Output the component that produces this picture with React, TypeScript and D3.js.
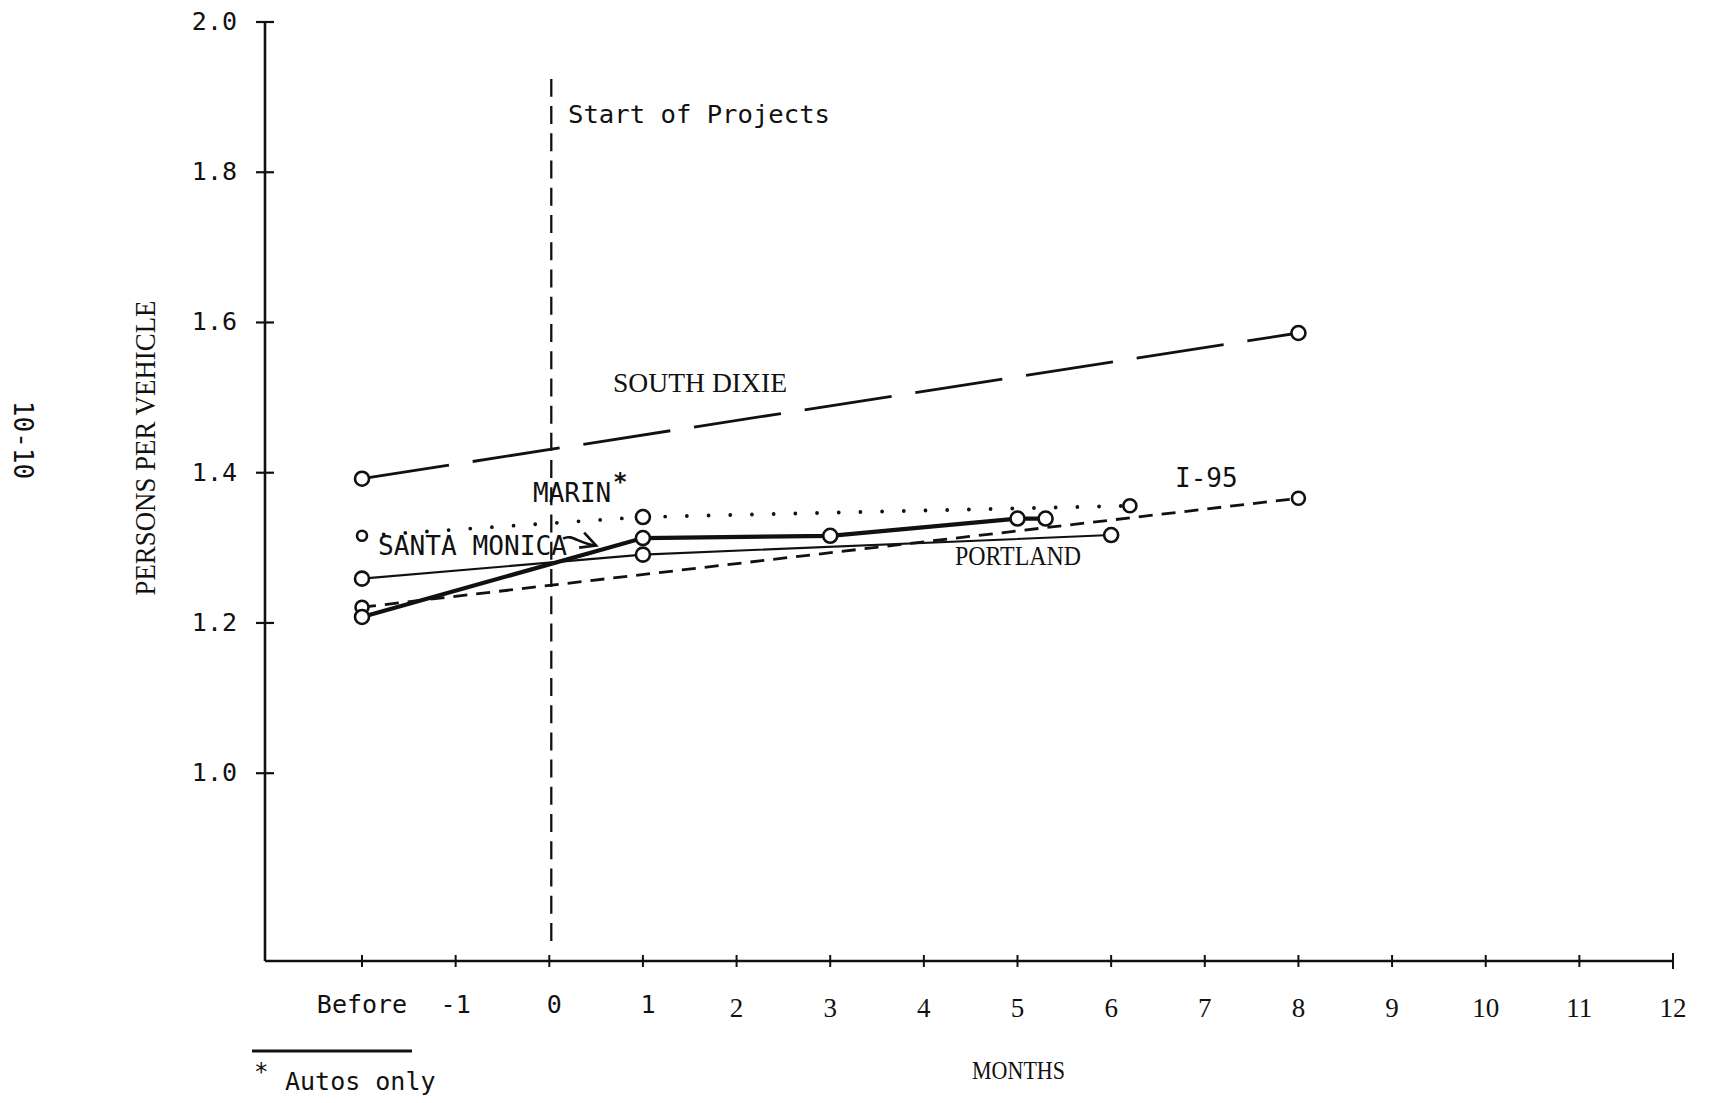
import React from 'react';
import * as d3 from 'd3';

const W = 1712;
const H = 1103;

// Axis ticks ("Before" is plotted at month -2)
const xTickValues = [-2, -1, 0, 1, 2, 3, 4, 5, 6, 7, 8, 9, 10, 11, 12];
const xTickLabels = ['Before', '-1', '0', '1', '2', '3', '4', '5', '6', '7', '8', '9', '10', '11', '12'];
const yTickValues = [1.0, 1.2, 1.4, 1.6, 1.8, 2.0];
const yTickLabels = ['1.0', '1.2', '1.4', '1.6', '1.8', '2.0'];

// Series (months, persons per vehicle)
const southDixieMonths = [-2, 8];
const southDixieValues = [1.392, 1.586];
const i95Months = [-2, 8];
const i95Values = [1.221, 1.366];
const marinMonths = [-2, 1, 6.2];
const marinValues = [1.316, 1.341, 1.356];
const santaMonicaMonths = [-2, 1, 3, 5, 5.3];
const santaMonicaValues = [1.208, 1.313, 1.316, 1.339, 1.339];
const portlandMonths = [-2, 1, 6];
const portlandValues = [1.259, 1.291, 1.317];

const MONO = "'DejaVu Sans Mono', monospace";
const SERIF = "'Liberation Serif', serif";
const INK = '#111';

export default function App() {
  const x = d3.scaleLinear().domain([-2, 12]).range([362, 1673]);
  const y = d3.scaleLinear().domain([0.75, 2.0]).range([961, 22]);
  const axisX = 265;
  const axisY = y(0.75);

  const mk = (ms: number[], vs: number[]) => ms.map((m, i) => [m, vs[i]] as [number, number]);
  const line = d3.line<[number, number]>().x(d => x(d[0])).y(d => y(d[1]));

  const series = [
    { name: 'southDixie', pts: mk(southDixieMonths, southDixieValues), width: 2.8, dash: '88 24', cap: 'butt', r: [7, 7] },
    { name: 'i95', pts: mk(i95Months, i95Values), width: 2.8, dash: '14 9', cap: 'butt', r: [6.5, 6.5] },
    { name: 'marin', pts: mk(marinMonths, marinValues), width: 3.8, dash: '0 21.7', cap: 'round', r: [5, 7, 6.5] },
    { name: 'portland', pts: mk(portlandMonths, portlandValues), width: 2.1, dash: null, cap: 'butt', r: [7, 7, 7] },
    { name: 'santaMonica', pts: mk(santaMonicaMonths, santaMonicaValues), width: 4.2, dash: null, cap: 'butt', r: [7, 7, 7, 7, 7] },
  ];

  const tipX = x(0.5);
  const tipY = y(1.303);

  return (
    <svg width={W} height={H} style={{ position: 'absolute', left: 0, top: 0, background: '#fff' }}>
      <rect x={0} y={0} width={W} height={H} fill="#fff" />

      {/* Y axis */}
      <line x1={axisX} y1={y(2.0)} x2={axisX} y2={axisY} stroke={INK} strokeWidth={2.6} />
      {yTickValues.map((v, i) => (
        <g key={'yt' + i}>
          <line x1={axisX - 9} x2={axisX + 9} y1={y(v)} y2={y(v)} stroke={INK} strokeWidth={2.2} />
          <text x={237} y={y(v) + 8} textAnchor="end" fontFamily={MONO} fontSize={25} fill={INK}>
            {yTickLabels[i]}
          </text>
        </g>
      ))}

      {/* X axis */}
      <line x1={axisX} y1={axisY} x2={x(12)} y2={axisY} stroke={INK} strokeWidth={2.6} />
      {xTickValues.map((m, i) => (
        <g key={'xt' + i}>
          <line x1={x(m)} x2={x(m)} y1={axisY - (m === 12 ? 8 : 6)} y2={axisY + (m === 12 ? 8 : 6)} stroke={INK} strokeWidth={2} />
          {i <= 3 ? (
            <text x={x(m) + (i >= 2 ? 5 : 0)} y={1013} textAnchor="middle" fontFamily={MONO} fontSize={25} fill={INK}>
              {xTickLabels[i]}
            </text>
          ) : (
            <text x={x(m)} y={1017} textAnchor="middle" fontFamily={SERIF} fontSize={27} fill={INK}>
              {xTickLabels[i]}
            </text>
          )}
        </g>
      ))}

      {/* Start of projects */}
      <line x1={x(0) + 2} x2={x(0) + 2} y1={941} y2={79} stroke={INK} strokeWidth={2.3} strokeDasharray="18 9.23" />
      <text x={568} y={123} fontFamily={MONO} fontSize={25} fill={INK} textLength={262} lengthAdjust="spacingAndGlyphs">Start of Projects</text>

      {/* Series lines */}
      {series.map(s => (
        <path
          key={s.name}
          d={line(s.pts) || ''}
          fill="none"
          stroke={INK}
          strokeWidth={s.width}
          strokeDasharray={s.dash || undefined}
          strokeLinecap={s.cap as any}
        />
      ))}
      {/* Markers */}
      {series.map(s =>
        s.pts.map((p, i) => (
          <circle key={s.name + 'c' + i} cx={x(p[0])} cy={y(p[1])} r={s.r[i]} fill="#fff" stroke={INK} strokeWidth={2.6} />
        ))
      )}

      {/* Series labels */}
      <text x={613} y={392} fontFamily={SERIF} fontSize={27} fill={INK} textLength={174} lengthAdjust="spacingAndGlyphs">SOUTH DIXIE</text>
      <text x={533} y={502} fontFamily={MONO} fontSize={26} fill={INK}>MARIN</text>
      <text x={613} y={490} fontFamily={MONO} fontSize={24} fontWeight="bold" fill={INK}>*</text>
      <text x={378} y={555} fontFamily={MONO} fontSize={26} fill={INK} textLength={189} lengthAdjust="spacingAndGlyphs">SANTA MONICA</text>
      <path d={`M ${tipX - 33} ${tipY - 7} C ${tipX - 24} ${tipY - 12}, ${tipX - 18} ${tipY - 2}, ${tipX} ${tipY}`} fill="none" stroke={INK} strokeWidth={2.6} />
      <path d={`M ${tipX - 12} ${tipY - 13} L ${tipX} ${tipY} L ${tipX - 17} ${tipY + 2}`} fill="none" stroke={INK} strokeWidth={2.6} />
      <text x={1175} y={487} fontFamily={MONO} fontSize={26} fill={INK}>I-95</text>
      <text x={955} y={565} fontFamily={SERIF} fontSize={28} fill={INK} textLength={126} lengthAdjust="spacingAndGlyphs">PORTLAND</text>

      {/* Axis titles */}
      <text
        transform="translate(155,448) rotate(-90)"
        textAnchor="middle"
        fontFamily={SERIF}
        fontSize={30}
        fill={INK}
        textLength={295}
        lengthAdjust="spacingAndGlyphs"
      >
        PERSONS PER VEHICLE
      </text>
      <text x={972} y={1079} fontFamily={SERIF} fontSize={26} fill={INK} textLength={93} lengthAdjust="spacingAndGlyphs">MONTHS</text>

      {/* Page number */}
      <text transform="translate(14,440) rotate(90)" textAnchor="middle" fontFamily={MONO} fontSize={26} fill={INK}>10-10</text>

      {/* Footnote */}
      <line x1={252} x2={412} y1={1051} y2={1051} stroke={INK} strokeWidth={3} />
      <text x={254} y={1080} fontFamily={MONO} fontSize={24} fill={INK}>*</text>
      <text x={285} y={1090} fontFamily={MONO} fontSize={25} fill={INK}>Autos only</text>
    </svg>
  );
}
